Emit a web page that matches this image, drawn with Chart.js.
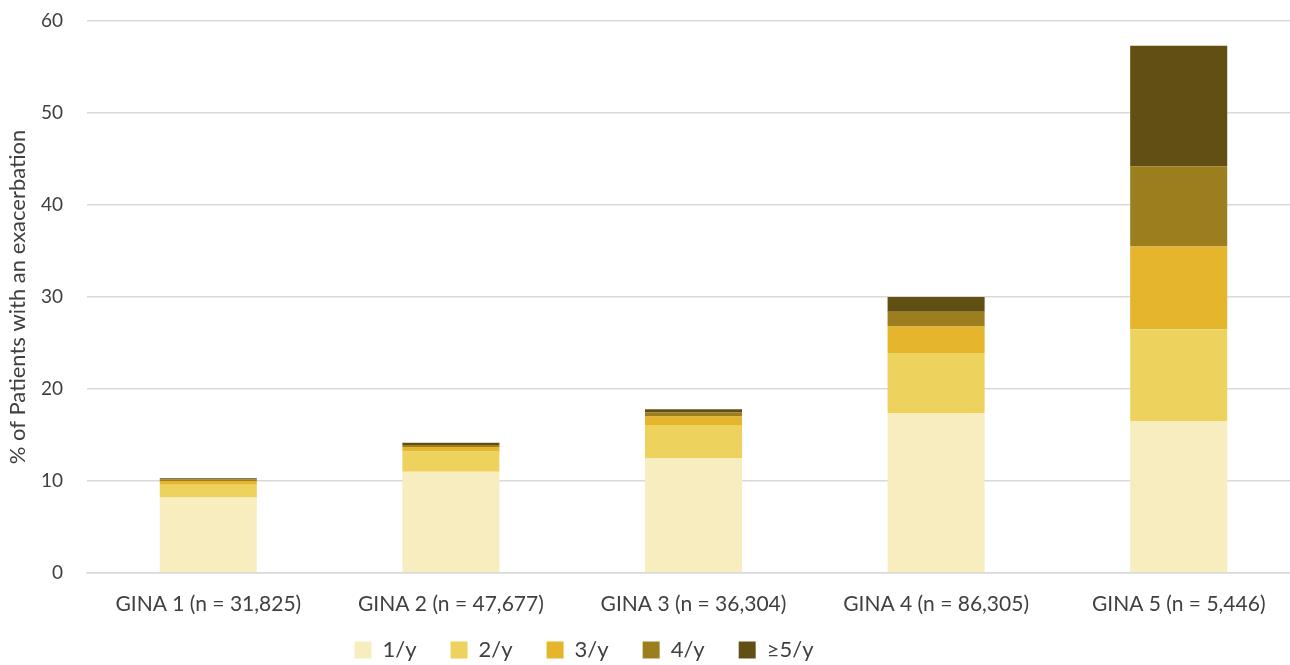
<!DOCTYPE html>
<html>
<head>
<meta charset="utf-8">
<script src="https://cdn.jsdelivr.net/npm/chart.js@4"></script>
<style>
  html, body { margin: 0; padding: 0; background: #fff; overflow: hidden; }
  #wrap { width: 1300px; height: 665px; position: relative; }
</style>
</head>
<body>
<div id="wrap"><canvas id="c"></canvas></div>
<script>
const categories = ["GINA 1 (n = 31,825)", "GINA 2 (n = 47,677)", "GINA 3 (n = 36,304)", "GINA 4 (n = 86,305)", "GINA 5 (n = 5,446)"];
const seriesNames = ["1/y", "2/y", "3/y", "4/y", "\u22655/y"];
const s1 = [8.2, 11.0, 12.5, 17.4, 16.5];
const s2 = [1.4, 2.2, 3.6, 6.5, 10.0];
const s3 = [0.4, 0.5, 0.9, 2.9, 9.0];
const s4 = [0.15, 0.2, 0.45, 1.6, 8.7];
const s5 = [0.15, 0.25, 0.35, 1.6, 13.1];
const yTicks = [0, 10, 20, 30, 40, 50, 60];
const colors = ["#F7EDBF", "#EDD35E", "#E5B62B", "#9D7E1F", "#624F14"];

const values = [s1, s2, s3, s4, s5];
const FONT = "Lato, 'Open Sans', sans-serif";

const legendShift = {
  id: 'legendShift',
  afterLayout(chart) {
    const lg = chart.legend;
    if (!lg) return;
    const dx = -66;
    const dy = 605 - lg.top;
    lg.left += dx; lg.right += dx;
    lg.top += dy; lg.bottom += dy;
  }
};

new Chart(document.getElementById('c'), {
  type: 'bar',
  data: {
    labels: categories,
    datasets: values.map((v, i) => ({
      label: seriesNames[i],
      data: v,
      backgroundColor: colors[i],
      borderWidth: 0,
      barPercentage: 0.4,
      categoryPercentage: 1.0
    }))
  },
  plugins: [legendShift],
  options: {
    responsive: true,
    maintainAspectRatio: false,
    animation: false,
    layout: { padding: { top: 0, right: 0, left: 0, bottom: -34 } },
    plugins: {
      legend: {
        position: 'bottom',
        labels: {
          boxWidth: 17,
          boxHeight: 17,
          padding: 34,
          color: '#404040',
          font: { family: FONT, size: 22 }
        }
      },
      tooltip: { enabled: false }
    },
    scales: {
      x: {
        stacked: true,
        afterFit: (axis) => { axis.height = 60; },
        grid: { display: false, drawTicks: false },
        border: { display: true, color: '#d9d9d9', width: 1.5 },
        ticks: {
          color: '#404040',
          padding: 19,
          maxRotation: 0,
          font: { family: FONT, size: 21 }
        }
      },
      y: {
        stacked: true,
        min: 0,
        max: 60,
        afterBuildTicks: (axis) => { axis.ticks = yTicks.map(v => ({ value: v })); },
        afterFit: (axis) => { axis.width = 87; axis.paddingTop = 21; axis.paddingBottom = 12; },
        grid: { color: '#d9d9d9', lineWidth: 1.5, drawTicks: false },
        border: { display: false },
        ticks: {
          color: '#404040',
          padding: 24,
          font: { family: FONT, size: 19 }
        },
        title: {
          display: true,
          text: '% of Patients with an exacerbation',
          color: '#404040',
          padding: { top: 5, bottom: 0 },
          font: { family: FONT, size: 22 }
        }
      }
    }
  }
});
</script>
</body>
</html>
